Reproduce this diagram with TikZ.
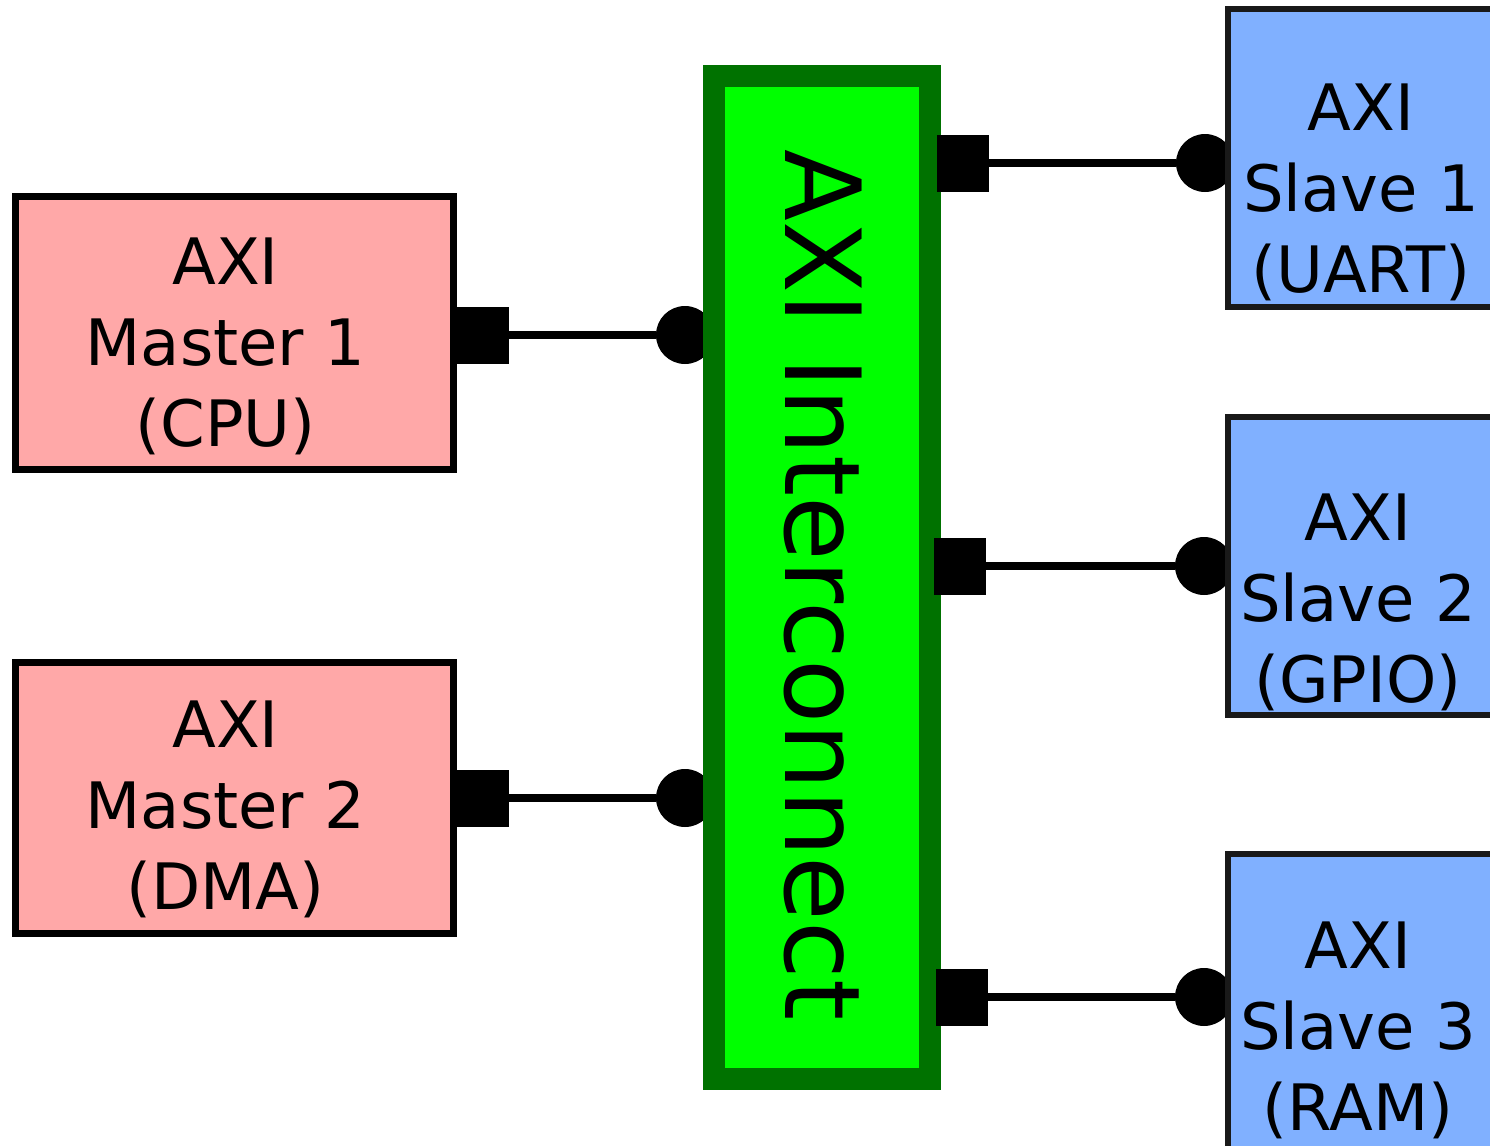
\documentclass[tikz,border=0pt]{standalone}
\usepackage{fontspec}
\setmainfont{DejaVu Sans}
\definecolor{mpink}{RGB}{255,168,168}
\definecolor{sblue}{RGB}{128,176,255}
\definecolor{icgreen}{RGB}{0,255,0}
\definecolor{icdark}{RGB}{0,114,0}
\begin{document}
\begin{tikzpicture}[x=0.5pt,y=-0.5pt,
  mbox/.style={draw=black, fill=mpink, line width=3.5pt, minimum width=219pt, inner sep=0pt},
  sbox/.style={draw=black!90, fill=sblue, line width=3pt, minimum width=141pt, minimum height=149pt, inner sep=0pt},
  icbox/.style={draw=icdark, fill=icgreen, line width=11pt, minimum width=108pt, minimum height=501.5pt, inner sep=0pt},
  port/.style={fill=black, minimum width=26pt, minimum height=28.5pt, inner sep=0pt},
  dot/.style={circle, fill=black, minimum size=29pt, inner sep=0pt},
  wire/.style={line width=3.75pt, black},
  lbl/.style={anchor=north, inner sep=0pt, align=center, font=\fontsize{32}{40.5}\selectfont}]
\useasboundingbox (0,0) rectangle (1490,1146);
\clip (0,0) rectangle (1490,1146);
\fill[white] (0,0) rectangle (1490,1146);
% dots (drawn under boxes)
\node[dot] (m1dot) at (685,335) {};
\node[dot] (m2dot) at (685,798) {};
\node[dot] (s1dot) at (1205,163) {};
\node[dot] (s2dot) at (1204,566) {};
\node[dot] (s3dot) at (1204,997) {};
% boxes
\node[mbox, minimum height=136.5pt] (m1) at (234.5,333) {};
\node[mbox, minimum height=135.5pt] (m2) at (234.5,798) {};
\node[sbox] (s1) at (1369,158) {};
\node[sbox] (s2) at (1369,566) {};
\node[sbox] (s3) at (1369,1003) {};
\node[icbox] (ic) at (822,577.5) {};
% labels
\node[lbl] (m1t) at (225.5,237) {AXI\\Master 1\\(CPU)};
\node[lbl] (m2t) at (225.5,700) {AXI\\Master 2\\(DMA)};
\node[lbl] (s1t) at (1361,83) {AXI\\Slave 1\\(UART)};
\node[lbl] (s2t) at (1358,493) {AXI\\Slave 2\\(GPIO)};
\node[lbl] (s3t) at (1358,921) {AXI\\Slave 3\\(RAM)};
\node[rotate=-90, inner sep=0pt, font=\fontsize{52.5}{60}\selectfont] (ict) at (823,585) {AXI Interconnect};
% ports
\node[port] (m1p) at (482.5,335) {};
\node[port] (m2p) at (482.5,798) {};
\node[port] (s1p) at (963,163) {};
\node[port] (s2p) at (959.5,566) {};
\node[port] (s3p) at (962,997) {};
% wires
\draw[wire] (m1p) -- (m1dot);
\draw[wire] (m2p) -- (m2dot);
\draw[wire] (s1p) -- (s1dot);
\draw[wire] (s2p) -- (s2dot);
\draw[wire] (s3p) -- (s3dot);
\end{tikzpicture}
\end{document}
